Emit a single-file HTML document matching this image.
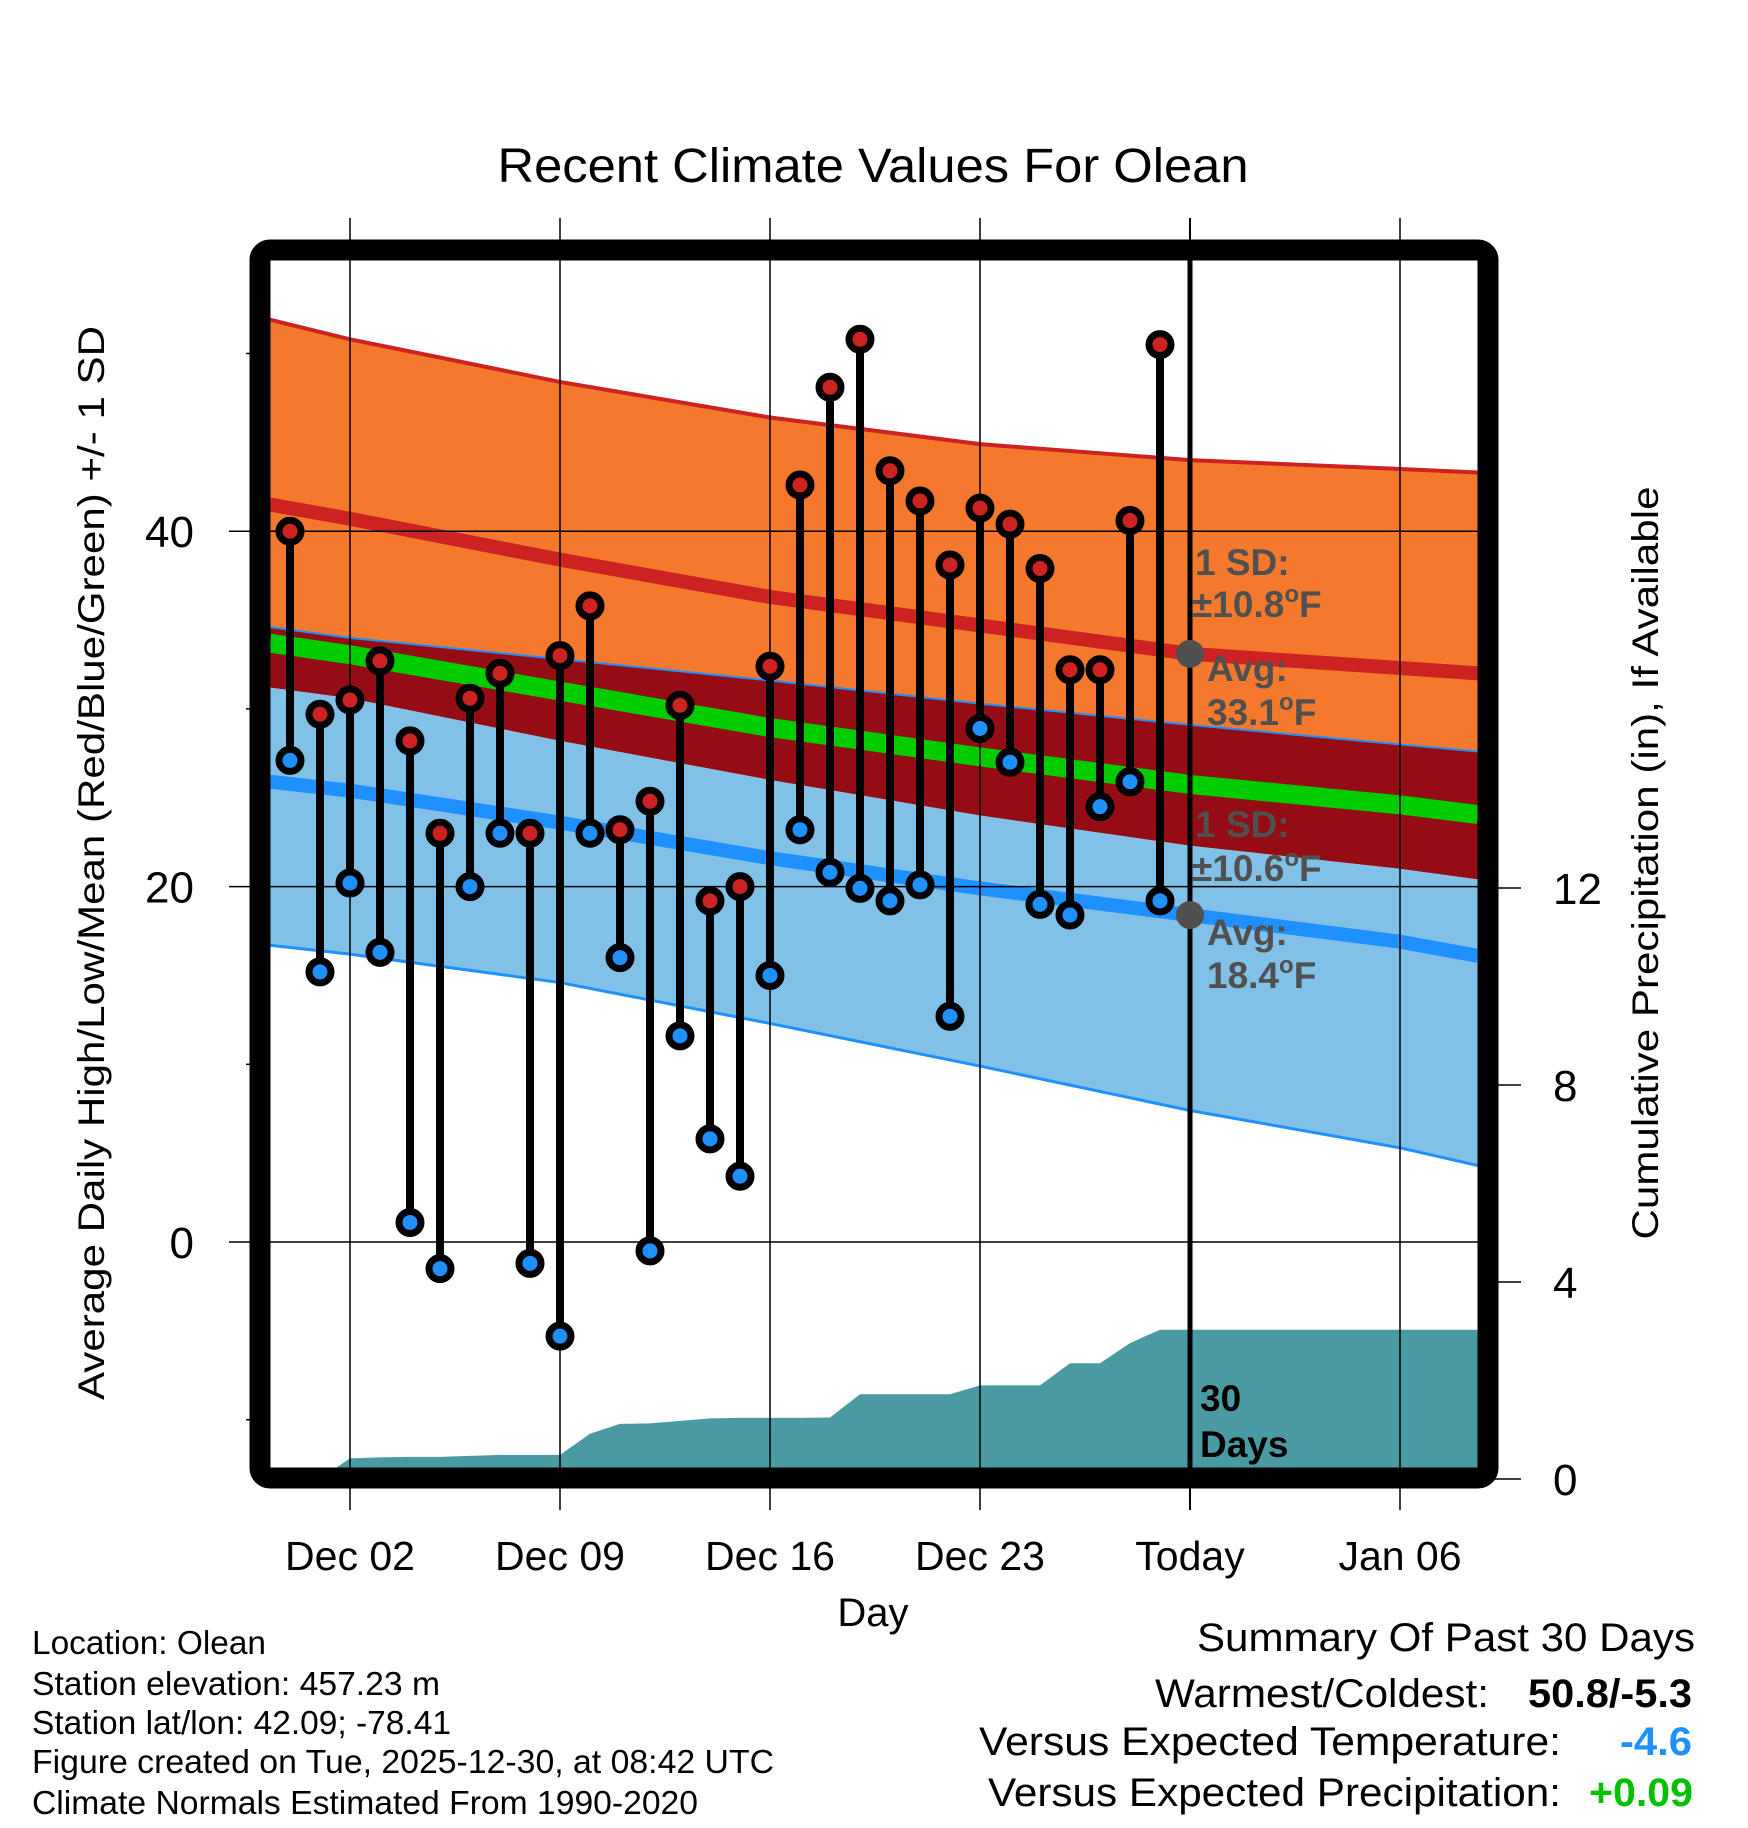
<!DOCTYPE html>
<html><head><meta charset="utf-8"><style>
html,body{margin:0;padding:0;background:#fff}
svg{display:block}
text{font-family:"Liberation Sans",Arial,sans-serif}
</style></head><body>
<svg id="chart" width="1748" height="1828" viewBox="0 0 1748 1828" xmlns="http://www.w3.org/2000/svg">
<defs><clipPath id="plotclip"><rect x="270" y="260" width="1208" height="1208"/></clipPath></defs>
<g id="bands" clip-path="url(#plotclip)"></g>
<g id="precip" clip-path="url(#plotclip)"></g>
<g id="grid"></g>
<g id="marks" clip-path="url(#plotclip)"></g>
<g id="annot">
<text x="1195" y="575" font-size="37" font-weight="bold" fill="#505050">1 SD:</text>
<text x="1192" y="617" font-size="37" font-weight="bold" fill="#505050">±10.8<tspan font-size="24" dy="-15">o</tspan><tspan dy="15">F</tspan></text>
<text x="1207" y="681" font-size="37" font-weight="bold" fill="#505050">Avg:</text>
<text x="1207" y="725" font-size="37" font-weight="bold" fill="#505050">33.1<tspan font-size="24" dy="-15">o</tspan><tspan dy="15">F</tspan></text>
<text x="1195" y="837" font-size="37" font-weight="bold" fill="#505050">1 SD:</text>
<text x="1192" y="881" font-size="37" font-weight="bold" fill="#505050">±10.6<tspan font-size="24" dy="-15">o</tspan><tspan dy="15">F</tspan></text>
<text x="1207" y="945" font-size="37" font-weight="bold" fill="#505050">Avg:</text>
<text x="1207" y="988" font-size="37" font-weight="bold" fill="#505050">18.4<tspan font-size="24" dy="-15">o</tspan><tspan dy="15">F</tspan></text>
<text x="1200" y="1411" font-size="37" font-weight="bold" fill="#000">30</text>
<text x="1200" y="1457" font-size="37" font-weight="bold" fill="#000">Days</text>
</g>
<rect x="260" y="250" width="1228" height="1228" rx="10" fill="none" stroke="#000" stroke-width="21"/>
<g id="axes"></g>
<text x="873" y="182" font-size="48" text-anchor="middle" textLength="751" lengthAdjust="spacingAndGlyphs">Recent Climate Values For Olean</text>
<text x="873" y="1626" font-size="40" text-anchor="middle">Day</text>
<text transform="translate(104,863) rotate(-90)" font-size="37" text-anchor="middle" textLength="1074" lengthAdjust="spacingAndGlyphs">Average Daily High/Low/Mean (Red/Blue/Green) +/- 1 SD</text>
<text transform="translate(1658,863) rotate(-90)" font-size="37" text-anchor="middle" textLength="753" lengthAdjust="spacingAndGlyphs">Cumulative Precipitation (in), If Available</text>
<g font-size="33">
<text x="32" y="1654" textLength="234" lengthAdjust="spacingAndGlyphs">Location: Olean</text>
<text x="32" y="1695" textLength="408" lengthAdjust="spacingAndGlyphs">Station elevation: 457.23 m</text>
<text x="32" y="1734" textLength="419" lengthAdjust="spacingAndGlyphs">Station lat/lon: 42.09; -78.41</text>
<text x="32" y="1773" textLength="742" lengthAdjust="spacingAndGlyphs">Figure created on Tue, 2025-12-30, at 08:42 UTC</text>
<text x="32" y="1814" textLength="666" lengthAdjust="spacingAndGlyphs">Climate Normals Estimated From 1990-2020</text>
</g>
<g font-size="40">
<text x="1197" y="1651" textLength="498" lengthAdjust="spacingAndGlyphs">Summary Of Past 30 Days</text>
<text x="1155" y="1707" textLength="334" lengthAdjust="spacingAndGlyphs">Warmest/Coldest:</text>
<text x="1528" y="1707" font-weight="bold" textLength="164" lengthAdjust="spacingAndGlyphs">50.8/-5.3</text>
<text x="979" y="1755" textLength="582" lengthAdjust="spacingAndGlyphs">Versus Expected Temperature:</text>
<text x="1620" y="1755" font-weight="bold" fill="#1E90FF" textLength="72" lengthAdjust="spacingAndGlyphs">-4.6</text>
<text x="988" y="1806" textLength="573" lengthAdjust="spacingAndGlyphs">Versus Expected Precipitation:</text>
<text x="1589" y="1806" font-weight="bold" fill="#00C000" textLength="104" lengthAdjust="spacingAndGlyphs">+0.09</text>
</g>
</svg>
<script>
// day index: 0 = Nov 30, 30 = Dec 30 (Today)
var highs = [40.0,29.7,30.5,32.7,28.2,23.0,30.6,32.0,23.0,33.0,35.8,23.2,24.8,30.2,19.2,20.0,32.4,42.6,48.1,50.8,43.4,41.7,38.1,41.3,40.4,37.9,32.2,32.2,40.6,50.5];
var lows  = [27.1,15.2,20.2,16.3,1.1,-1.5,20.0,23.0,-1.2,-5.3,23.0,16.0,-0.5,11.6,5.8,3.7,15.0,23.2,20.8,19.9,19.2,20.1,12.7,28.9,27.0,19.0,18.4,24.5,25.9,19.2];
var precipDays = [1,2,3,4,5,6,7,8,9,10,11,12,13,14,15,16,17,18,19,20,21,22,23,24,25,26,27,28,29,30];
var precipCum  = [0,0.42,0.44,0.45,0.45,0.47,0.49,0.49,0.49,0.92,1.12,1.13,1.18,1.23,1.24,1.24,1.24,1.25,1.72,1.72,1.72,1.72,1.9,1.9,1.9,2.35,2.35,2.76,3.03,3.03];
var normDays = [-0.667,2,9,16,23,30,37,39.6];
var normHighPlusSD  = [51.9,50.8,48.4,46.4,44.9,44.0,43.5,43.3];
var normHigh        = [41.5,40.7,38.4,36.3,34.7,33.1,32.3,32.0];
var normLowPlusSD   = [34.6,34.0,32.8,31.6,30.3,29.1,28.0,27.6];
var normHighMinusSD = [31.2,30.6,28.2,26.0,24.0,22.3,21.0,20.4];
var normLow         = [25.9,25.4,23.6,21.6,19.9,18.4,16.9,16.1];
var normLowMinusSD  = [16.7,16.2,14.6,12.3,9.9,7.4,5.3,4.3];
var xTickDays = [2,9,16,23,30,37];
var xTickLabels = ["Dec 02","Dec 09","Dec 16","Dec 23","Today","Jan 06"];
var yMajor = [0,20,40];
var yMinor = [-10,10,30,50];
var pTicks = [0,4,8,12];

var NS="http://www.w3.org/2000/svg";
function X(d){return 290+30*d;}
function Y(t){return 1242-17.77*t;}
function P(p){return 1479-49.25*p;}
function mk(tag,attrs,parent){var e=document.createElementNS(NS,tag);for(var k in attrs)e.setAttribute(k,attrs[k]);parent.appendChild(e);return e;}
function pts(arr){return normDays.map(function(d,i){return X(d)+","+Y(arr[i]);});}
function band(top,bot){return pts(top).concat(pts(bot).reverse()).join(" ");}

var bands=document.getElementById("bands");
var normMean=normHigh.map(function(h,i){return (h+normLow[i])/2;});
var e;
e=mk("polygon",{points:band(normHighPlusSD,normLowPlusSD),fill:"#F4792D"},bands);


e=mk("polygon",{points:band(normLowPlusSD,normHighMinusSD),fill:"#950D14"},bands);


e=mk("polygon",{points:band(normHighMinusSD,normLowMinusSD),fill:"#82C1E7"},bands);


e=mk("polyline",{points:pts(normHighPlusSD).join(" "),fill:"none",stroke:"#CC2222","stroke-width":4},bands);


e=mk("polyline",{points:pts(normHigh).join(" "),fill:"none",stroke:"#CC2222","stroke-width":14},bands);


e=mk("polyline",{points:pts(normLowPlusSD).join(" "),fill:"none",stroke:"#1E90FF","stroke-width":2},bands);


e=mk("polyline",{points:pts(normMean).join(" "),fill:"none",stroke:"#00CC00","stroke-width":19},bands);


e=mk("polyline",{points:pts(normLow).join(" "),fill:"none",stroke:"#1E90FF","stroke-width":14},bands);


e=mk("polyline",{points:pts(normLowMinusSD).join(" "),fill:"none",stroke:"#1E90FF","stroke-width":3},bands);



// precip
var pr=document.getElementById("precip");
var pp=precipDays.map(function(d,i){return X(d)+","+P(precipCum[i]);});
var last=precipCum[precipCum.length-1];
pp.push("1480,"+P(last));
pp.push("1480,1470");pp.push(X(precipDays[0])+",1470");
e=mk("polygon",{points:pp.join(" "),fill:"#4A9AA3"},pr);



// grid
var g=document.getElementById("grid");
xTickDays.forEach(function(d){
  e=mk("line",{x1:X(d),x2:X(d),y1:218,y2:1510,stroke:"#000","stroke-width":d===30?2:1.5},g);
  
  
});
yMajor.forEach(function(t){
  e=mk("line",{x1:229,x2:1478,y1:Y(t),y2:Y(t),stroke:"#000","stroke-width":1.5},g);
  
  
});
e=mk("line",{x1:X(30),x2:X(30),y1:260,y2:1468,stroke:"#000","stroke-width":5},g);



// marks
var m=document.getElementById("marks");
highs.forEach(function(h,i){
  var l=lows[i];
  e=mk("line",{x1:X(i),x2:X(i),y1:Y(h),y2:Y(l),stroke:"#000","stroke-width":8},m);
  
  
});
highs.forEach(function(h,i){
  var l=lows[i];
  e=mk("circle",{cx:X(i),cy:Y(l),r:11,fill:"#1E90FF",stroke:"#000","stroke-width":7},m);
  
  
  e=mk("circle",{cx:X(i),cy:Y(h),r:11,fill:"#CC2222",stroke:"#000","stroke-width":7},m);
  
  
});
e=mk("circle",{cx:X(30),cy:Y(normHigh[5]),r:14,fill:"#505050"},m);


e=mk("circle",{cx:X(30),cy:Y(normLow[5]),r:14,fill:"#505050"},m);



// axes
var a=document.getElementById("axes");
yMajor.forEach(function(t){
  e=mk("text",{x:194,y:Y(t)+16,"font-size":44,"text-anchor":"end"},a);
  e.textContent=String(t);
  
  
});
yMinor.forEach(function(t){
  e=mk("line",{x1:246,x2:262,y1:Y(t),y2:Y(t),stroke:"#000","stroke-width":1.5},a);
  
  
});
pTicks.forEach(function(p){
  e=mk("line",{x1:1490,x2:1521,y1:P(p),y2:P(p),stroke:"#000","stroke-width":1.5},a);
  
  
  e=mk("text",{x:1553,y:P(p)+16,"font-size":44},a);
  e.textContent=String(p);
  
  
});
xTickDays.forEach(function(d,i){
  e=mk("text",{x:X(d),y:1570,"font-size":41,"text-anchor":"middle"},a);
  e.textContent=xTickLabels[i];
  
  
});
</script>
</body></html>
